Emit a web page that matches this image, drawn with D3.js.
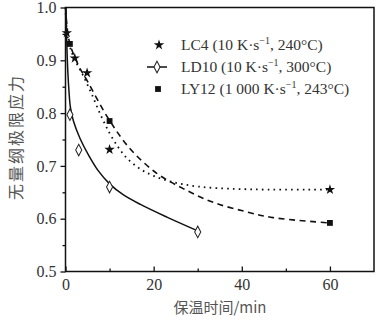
<!DOCTYPE html>
<html><head><meta charset="utf-8">
<script src="https://cdnjs.cloudflare.com/ajax/libs/d3/7.8.5/d3.min.js"></script>
<style>body{margin:0;background:#fff}svg{display:block}</style>
</head><body>
<script>
// ---- data ----
const xTicks = [0, 20, 40, 60];
const yTicks = [0.5, 0.6, 0.7, 0.8, 0.9, 1.0];
const legendLabels = ["LC4 (10 K·s", "LD10 (10 K·s", "LY12 (1 000 K·s"];
const legendTails = [", 240°C)", ", 300°C)", ", 243°C)"];
// measured points
const lc4Pts = [[0.3, 0.952], [2.1, 0.904], [4.9, 0.876], [10, 0.731], [60, 0.655]];
const ld10Pts = [[1, 0.797], [3, 0.730], [10, 0.660], [30, 0.575]];
const ly12Pts = [[1, 0.931], [10, 0.785], [60, 0.592]];
// fitted curves
const lc4Fit = [[0, 1.0], [0.3, 0.955], [1, 0.926], [2, 0.903], [4, 0.871], [6, 0.835], [8, 0.796], [10, 0.762], [12, 0.735], [14, 0.714], [17, 0.694], [20, 0.681], [24, 0.670], [30, 0.661], [40, 0.656], [60, 0.655]];
const ld10Fit = [[0.12, 1.0], [0.3, 0.93], [0.55, 0.875], [0.8, 0.84], [1.1, 0.812], [1.8, 0.785], [3.3, 0.752], [5.2, 0.721], [7.5, 0.690], [10, 0.666], [13, 0.646], [17, 0.627], [23, 0.603], [30, 0.577]];
const ly12Fit = [[0, 1.0], [0.4, 0.96], [1, 0.931], [2.9, 0.891], [5, 0.86], [9.7, 0.790], [14.6, 0.733], [20.7, 0.686], [26.7, 0.657], [33.5, 0.631], [41.1, 0.613], [47.1, 0.602], [60, 0.592]];

const W = 392, H = 327;
const m = {l: 65.5, r: 18, t: 7.5, b: 55.5};
const svg = d3.select("body").append("svg").attr("width", W).attr("height", H);
const x = d3.scaleLinear().domain([0, 70]).range([m.l, W - m.r]);
const y = d3.scaleLinear().domain([0.5, 1.0]).range([H - m.b, m.t]);
const serif = "'Liberation Serif','DejaVu Serif',serif";
const cjk = "'Noto Sans CJK SC',sans-serif";

// frame
svg.append("rect").attr("x", x(0)).attr("y", y(1)).attr("width", x(70) - x(0)).attr("height", y(0.5) - y(1))
  .attr("fill", "none").attr("stroke", "#111").attr("stroke-width", 1.5);

// x axis (ticks inward)
const xa = svg.append("g").attr("transform", `translate(0,${y(0.5)})`)
  .call(d3.axisBottom(x).tickValues(xTicks).tickSize(-5).tickPadding(7).tickFormat(d3.format("d")));
xa.select(".domain").remove();
xa.selectAll(".tick line").attr("stroke", "#111").attr("stroke-width", 1.3);
xa.selectAll("text").attr("font-family", serif).attr("font-size", 16).attr("fill", "#333");
svg.append("g").attr("transform", `translate(0,${y(0.5)})`)
  .call(d3.axisBottom(x).tickValues([10, 30, 50]).tickSize(-3).tickFormat(""))
  .call(g => { g.select(".domain").remove(); g.selectAll("line").attr("stroke", "#111").attr("stroke-width", 1.3); });

// y axis (ticks outward)
const ya = svg.append("g").attr("transform", `translate(${x(0)},0)`)
  .call(d3.axisLeft(y).tickValues(yTicks).tickSize(5).tickPadding(4).tickFormat(d3.format(".1f")));
ya.select(".domain").remove();
ya.selectAll(".tick line").attr("stroke", "#111").attr("stroke-width", 1.3);
ya.selectAll("text").attr("font-family", serif).attr("font-size", 16).attr("fill", "#333");
svg.append("g").attr("transform", `translate(${x(0)},0)`)
  .call(d3.axisLeft(y).tickValues([0.55, 0.65, 0.75, 0.85, 0.95]).tickSize(3).tickFormat(""))
  .call(g => { g.select(".domain").remove(); g.selectAll("line").attr("stroke", "#111").attr("stroke-width", 1.3); });

// axis titles
svg.append("text").attr("x", 220).attr("y", 313).attr("text-anchor", "middle")
  .attr("font-family", cjk).attr("font-size", 15).attr("fill", "#555")
  .text("保温时间/min");
svg.append("text").attr("transform", "translate(22,137) rotate(-90)").attr("text-anchor", "middle")
  .attr("font-family", cjk).attr("font-size", 16).attr("letter-spacing", 2).attr("fill", "#555")
  .text("无量纲极限应力");

// curves
const line = d3.line().x(d => x(d[0])).y(d => y(d[1])).curve(d3.curveCatmullRom.alpha(0.5));
const plot = svg.append("g");
plot.append("path").datum(lc4Fit).attr("d", line).attr("fill", "none").attr("stroke", "#111")
  .attr("stroke-width", 1.8).attr("stroke-dasharray", "1.6,4.2");
plot.append("path").datum(ly12Fit).attr("d", line).attr("fill", "none").attr("stroke", "#111")
  .attr("stroke-width", 1.6).attr("stroke-dasharray", "6,4.5");
plot.append("path").datum(ld10Fit).attr("d", line).attr("fill", "none").attr("stroke", "#111")
  .attr("stroke-width", 1.5);

// markers
const star = d3.symbol().type(d3.symbolStar).size(34);
const diamond = d3.symbol().type(d3.symbolDiamond).size(32);
const square = d3.symbol().type(d3.symbolSquare).size(34);
plot.selectAll(".s").data(lc4Pts).join("path").attr("d", star)
  .attr("transform", d => `translate(${x(d[0])},${y(d[1])})`).attr("fill", "#111");
plot.selectAll(".d").data(ld10Pts).join("path").attr("d", diamond)
  .attr("transform", d => `translate(${x(d[0])},${y(d[1])}) scale(1,1.1)`).attr("fill", "#fff").attr("stroke", "#222").attr("stroke-width", 1);
plot.selectAll(".q").data(ly12Pts).join("path").attr("d", square)
  .attr("transform", d => `translate(${x(d[0])},${y(d[1])})`).attr("fill", "#111");

// legend
const lg = svg.append("g");
const rowsY = [45, 67, 89];
lg.append("path").attr("d", star).attr("transform", `translate(159,${rowsY[0]})`).attr("fill", "#111");
lg.append("line").attr("x1", 147).attr("x2", 167).attr("y1", rowsY[1]).attr("y2", rowsY[1]).attr("stroke", "#111").attr("stroke-width", 1.5);
lg.append("path").attr("d", diamond).attr("transform", `translate(157,${rowsY[1]}) scale(1,1.1)`).attr("fill", "#fff").attr("stroke", "#222");
lg.append("path").attr("d", square).attr("transform", `translate(158,${rowsY[2]})`).attr("fill", "#111");
legendLabels.forEach((t, i) => {
  const tx = lg.append("text").attr("x", 181).attr("y", rowsY[i] + 5)
    .attr("font-family", serif).attr("font-size", 15.5).attr("fill", "#333");
  tx.append("tspan").text(t);
  tx.append("tspan").attr("dy", -6).attr("font-size", 10).text("−1");
  tx.append("tspan").attr("dy", 6).text(legendTails[i]);
});
</script>
</body></html>
